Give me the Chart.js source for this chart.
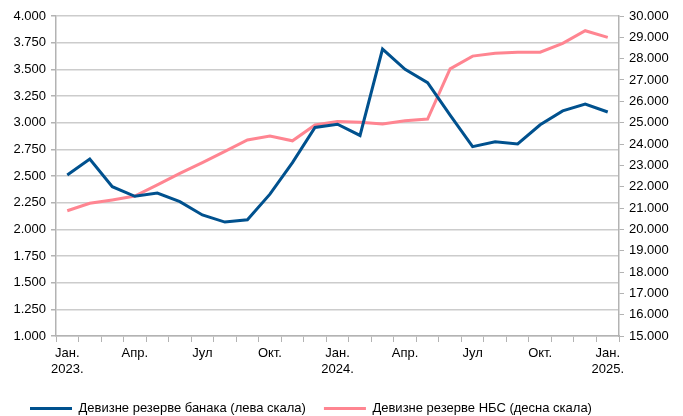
<!DOCTYPE html>
<html>
<head>
<meta charset="utf-8">
<script src="https://cdn.jsdelivr.net/npm/chart.js@4/dist/chart.umd.min.js"></script>
<style>
  html, body { margin: 0; padding: 0; background: #fff; }
  #wrap { width: 683px; height: 416px; position: relative; }
</style>
</head>
<body>
<div id="wrap"><canvas id="chart"></canvas></div>
<script>
// months Jan 2023 .. Jan 2025
const months = [
  ["Јан.", "2023."], "Феб.", "Мар.", "Апр.", "Мај", "Јун", "Јул", "Авг.", "Сеп.", "Окт.", "Нов.", "Дец.",
  ["Јан.", "2024."], "Феб.", "Мар.", "Апр.", "Мај", "Јун", "Јул", "Авг.", "Сеп.", "Окт.", "Нов.", "Дец.",
  ["Јан.", "2025."]
];

// devizne rezerve banaka, left scale
const bankReserves = [2510, 2660, 2400, 2310, 2340, 2260, 2135, 2068, 2090, 2330, 2625, 2955, 2985, 2880,
  3690, 3500, 3375, 3070, 2775, 2820, 2800, 2980, 3110, 3175, 3100];

// devizne rezerve NBS, right scale
const nbsReserves = [20870, 21220, 21380, 21560, 22080, 22620, 23130, 23650, 24190, 24370, 24150, 24890,
  25050, 25020, 24940, 25090, 25170, 27520, 28120, 28250, 28300, 28300, 28720, 29310, 29000];

const seriesNames = ["Девизне резерве банака (лева скала)", "Девизне резерве НБС (десна скала)"];
const seriesColors = ["#00518e", "#ff8591"];

function fmt(v) {
  // 4000 -> "4.000"
  return String(Math.round(v)).replace(/\B(?=(\d{3})+(?!\d))/g, ".");
}

const tickFont = { family: "'Liberation Sans', Arial, sans-serif", size: 13 };
const gridCol = "#cccccc";
const axisCol = "#b3b3b3";
const legendGap = 18;
const legendSize = 13;

new Chart(document.getElementById("chart"), {
  type: "line",
  data: {
    labels: months,
    datasets: [
      {
        label: seriesNames[0],
        data: bankReserves,
        yAxisID: "y",
        borderColor: seriesColors[0],
        backgroundColor: seriesColors[0],
        borderWidth: 3,
        pointRadius: 0,
        tension: 0
      },
      {
        label: seriesNames[1],
        data: nbsReserves,
        yAxisID: "y1",
        borderColor: seriesColors[1],
        backgroundColor: seriesColors[1],
        borderWidth: 3,
        pointRadius: 0,
        tension: 0
      }
    ]
  },
  options: {
    responsive: true,
    maintainAspectRatio: false,
    animation: false,
    layout: { padding: { top: 16, right: 0, left: 0, bottom: 0 } },
    plugins: {
      tooltip: { enabled: false },
      legend: {
        position: "bottom",
        maxHeight: 20,
        labels: {
          usePointStyle: true,
          pointStyle: "line",
          pointStyleWidth: 42,
          padding: legendGap,
          color: "#000",
          font: { family: "'Liberation Sans', Arial, sans-serif", size: legendSize }
        }
      }
    },
    scales: {
      x: {
        offset: true,
        grid: {
          offset: true,
          drawOnChartArea: false,
          color: axisCol,
          tickLength: 6
        },
        border: { color: axisCol, width: 1.5 },
        ticks: {
          autoSkip: false,
          maxRotation: 0,
          color: "#000",
          font: tickFont,
          padding: 4,
          callback: function (val, i) {
            return i % 3 === 0 ? months[i] : "";
          }
        },
        afterFit: function (s) { s.height = 60; }
      },
      y: {
        position: "left",
        min: 1000,
        max: 4000,
        grid: { color: gridCol, lineWidth: 1.5, tickLength: 5, tickColor: axisCol },
        border: { color: axisCol, width: 1.5 },
        ticks: {
          stepSize: 250,
          color: "#000",
          font: tickFont,
          padding: 5,
          callback: function (v) { return fmt(v); }
        },
        afterFit: function (s) { s.width = 56; }
      },
      y1: {
        position: "right",
        min: 15000,
        max: 30000,
        grid: { drawOnChartArea: false, color: axisCol, tickLength: 5 },
        border: { color: axisCol, width: 1.5 },
        ticks: {
          stepSize: 1000,
          color: "#000",
          font: tickFont,
          padding: 5,
          callback: function (v) { return fmt(v); }
        },
        afterFit: function (s) { s.width = 64; }
      }
    }
  },
  plugins: [{
    id: "legendShift",
    afterLayout: function (chart) {
      // put the legend row where the original has it: starts at x=30, text middle at y=408
      const lg = chart.legend;
      if (!lg || !lg.lineWidths) return;
      lg.left = 60 - legendGap - lg.right + lg.lineWidths[0];
      lg.top = 408.5 - legendSize / 2 - legendGap;
    }
  }]
});
</script>
</body>
</html>
